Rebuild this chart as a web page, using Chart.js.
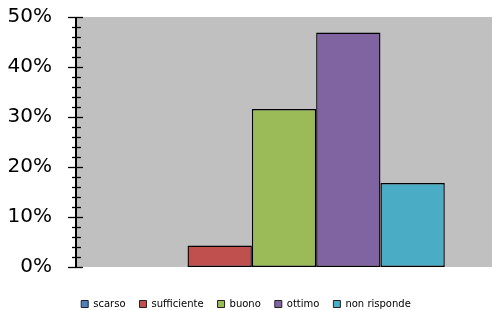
<!DOCTYPE html>
<html lang="it">
<head>
    <meta charset="UTF-8">
    <title>Valutazione</title>
    <style>
        body { margin: 0; padding: 0; background: #fff; }
        .wrap { width: 493px; height: 310px; position: relative; }
    </style>
</head>
<body>
    <div class="wrap">
        <canvas id="votiChart" width="493" height="310"></canvas>
    </div>

    <script src="https://cdn.jsdelivr.net/npm/chart.js"></script>
    <script>
        // Data
        const categories = ['scarso', 'sufficiente', 'buono', 'ottimo', 'non risponde'];
        const percentages = [0, 4.3, 31.6, 46.9, 16.8];
        const barColors = ['#4F81BD', '#C0504D', '#9BBB59', '#8064A2', '#4BACC6'];
        const yTicks = [0, 10, 20, 30, 40, 50];

        // gray plot background + ticks crossing the y axis
        const plotArea = {
            id: 'plotArea',
            beforeDraw(chart) {
                const { ctx, chartArea: a } = chart;
                ctx.save();
                ctx.fillStyle = '#C0C0C0';
                ctx.fillRect(a.left, a.top, a.right - a.left, a.bottom - a.top);
                ctx.restore();
            },
            afterDraw(chart) {
                const { ctx, chartArea: a, scales } = chart;
                const y = scales.y;
                ctx.save();
                ctx.strokeStyle = '#000';
                ctx.lineWidth = 1.3;
                for (let v = y.min; v <= y.max; v += 2) {
                    const py = Math.round(y.getPixelForValue(v)) + 0.5;
                    const major = v % 10 === 0;
                    ctx.beginPath();
                    ctx.moveTo(a.left - (major ? 8 : 4), py);
                    ctx.lineTo(a.left + (major ? 7 : 5), py);
                    ctx.stroke();
                }
                ctx.lineWidth = 2;
                ctx.beginPath();
                ctx.moveTo(a.left, a.top);
                ctx.lineTo(a.left, a.bottom);
                ctx.stroke();
                ctx.restore();
            }
        };

        const ctx = document.getElementById('votiChart').getContext('2d');
        const votiChart = new Chart(ctx, {
            type: 'bar',
            data: {
                labels: [''],
                datasets: categories.map((name, i) => ({
                    label: name,
                    data: [percentages[i]],
                    backgroundColor: barColors[i],
                    borderColor: '#000',
                    borderWidth: 1.4,
                    borderSkipped: false,
                    barPercentage: 1,
                    categoryPercentage: 0.773
                }))
            },
            options: {
                responsive: false,
                animation: false,
                layout: { padding: { top: 17, right: 1, left: 0, bottom: -9 } },
                scales: {
                    x: {
                        display: true,
                        ticks: { display: false },
                        grid: { display: false, drawTicks: true, tickLength: 18 },
                        border: { display: false }
                    },
                    y: {
                        min: 0,
                        max: 50,
                        afterBuildTicks: axis => {
                            axis.ticks = yTicks.map(v => ({ value: v }));
                        },
                        afterFit: axis => { axis.width = 76; },
                        ticks: {
                            callback: v => v + '%',
                            color: '#000',
                            padding: 0,
                            font: { family: 'DejaVu Sans', size: 20 }
                        },
                        grid: { display: false, drawTicks: true, tickLength: 24 },
                        border: { display: false }
                    }
                },
                plugins: {
                    legend: {
                        position: 'bottom',
                        labels: {
                            boxWidth: 7,
                            boxHeight: 7,
                            padding: 14,
                            color: '#000',
                            font: { family: 'DejaVu Sans', size: 10 },
                            generateLabels: chart => {
                                const items = Chart.defaults.plugins.legend.labels.generateLabels(chart);
                                items.forEach(it => { it.lineWidth = 1; it.strokeStyle = '#222'; });
                                return items;
                            }
                        }
                    },
                    tooltip: { enabled: false }
                }
            },
            plugins: [plotArea]
        });
    </script>
</body>
</html>
